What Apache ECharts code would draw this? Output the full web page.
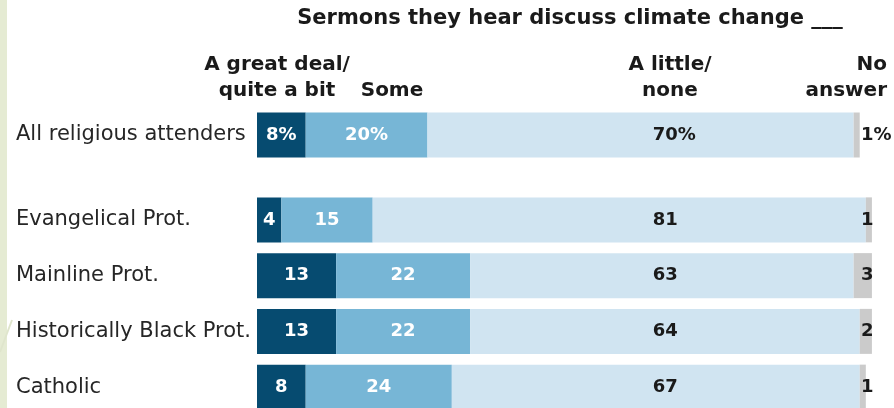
<!DOCTYPE html>
<html>
<head>
<meta charset="utf-8">
<script src="https://cdn.jsdelivr.net/npm/echarts@6/dist/echarts.min.js"></script>
<style>
html,body{margin:0;padding:0;background:#fff;}
#chart{width:894px;height:408px;}
</style>
</head>
<body>
<div id="chart"></div>
<script>
const categories = ['All religious attenders', 'Evangelical Prot.', 'Mainline Prot.', 'Historically Black Prot.', 'Catholic'];
const greatDeal = [8, 4, 13, 13, 8];
const some = [20, 15, 22, 22, 24];
const littleNone = [70, 81, 63, 64, 67];
const noAnswer = [1, 1, 3, 2, 1];
const segmentNames = ['A great deal/ quite a bit', 'Some', 'A little/ none', 'No answer'];
const columnHeads = ['A great deal/\nquite a bit', 'Some', 'A little/\nnone', 'No\nanswer'];
const titleText = 'Sermons they hear discuss climate change ___';

const colors = ['#064b70', '#77b6d6', '#d0e4f1', '#cbcbcb'];
const labelColors = ['#ffffff', '#ffffff', '#1a1a1a', '#1a1a1a'];
const FONT = 'DejaVu Sans';

const chart = echarts.init(document.getElementById('chart'), null, {renderer: 'canvas'});
const W = chart.getWidth();
const gridLeft = 257, gridRight = 16, xMax = 102;
const ppu = (W - gridLeft - gridRight) / xMax;
const lightCol = 65;     // column (in %) where "A little/none" labels start
const naCol = 99.2;      // column where "No answer" labels start

const values = [greatDeal, some, littleNone, noAnswer];
const groups = [[0], [1, 2, 3, 4]];

const series = [];
groups.forEach((idx, g) => {
  values.forEach((vals, s) => {
    series.push({
      type: 'bar',
      name: segmentNames[s],
      xAxisIndex: g,
      yAxisIndex: g,
      stack: 'g' + g,
      barWidth: 45,
      itemStyle: {color: colors[s]},
      label: {
        show: true,
        position: s >= 2 ? 'insideLeft' : 'inside',
        distance: 0,
        color: labelColors[s],
        fontFamily: FONT,
        fontWeight: 'bold',
        fontSize: 18,
        formatter: g === 0 ? '{c}%' : '{c}'
      },
      data: idx.map(i => {
        const item = {value: vals[i]};
        if (s === 2) {
          item.label = {offset: [(lightCol - (greatDeal[i] + some[i])) * ppu, 0]};
        } else if (s === 3) {
          item.label = {offset: [(naCol - (greatDeal[i] + some[i] + littleNone[i])) * ppu, 0]};
        }
        return item;
      })
    });
  });
});

const yAxisBase = {
  type: 'category',
  inverse: true,
  axisLine: {show: false},
  axisTick: {show: false},
  splitLine: {show: false},
  axisLabel: {
    align: 'left',
    margin: gridLeft - 16,
    color: '#262626',
    fontFamily: FONT,
    fontSize: 21
  }
};
const xAxisBase = {type: 'value', min: 0, max: xMax, show: false};

const headStyle = {fontFamily: FONT, fontWeight: 'bold', fontSize: 20, fill: '#1a1a1a', lineHeight: 26};

const option = {
  animation: false,
  backgroundColor: '#ffffff',
  grid: [
    {left: gridLeft, right: gridRight, top: 107, height: 56, containLabel: false, outerBoundsMode: 'none'},
    {left: gridLeft, right: gridRight, top: 192, height: 223, containLabel: false, outerBoundsMode: 'none'}
  ],
  xAxis: [
    Object.assign({gridIndex: 0}, xAxisBase),
    Object.assign({gridIndex: 1}, xAxisBase)
  ],
  yAxis: [
    Object.assign({gridIndex: 0, data: categories.slice(0, 1)}, yAxisBase),
    Object.assign({gridIndex: 1, data: categories.slice(1)}, yAxisBase)
  ],
  series: series,
  graphic: [
    {type: 'rect', shape: {x: 0, y: 0, width: 7, height: 408}, style: {fill: '#e5ebd3'}, silent: true},
    {type: 'line', shape: {x1: 0, y1: 352, x2: 12, y2: 320}, style: {stroke: '#dfe5cc', lineWidth: 2}, silent: true},
    {type: 'text', x: 570, y: 18.5, style: {text: titleText, fontFamily: FONT, fontWeight: 'bold', fontSize: 21, fill: '#1a1a1a', align: 'center', verticalAlign: 'middle'}},
    {type: 'text', x: 277, y: 77.75, style: Object.assign({text: columnHeads[0], align: 'center', verticalAlign: 'middle'}, headStyle)},
    {type: 'text', x: 392, y: 90.75, style: Object.assign({text: columnHeads[1], align: 'center', verticalAlign: 'middle'}, headStyle)},
    {type: 'text', x: 670, y: 77.75, style: Object.assign({text: columnHeads[2], align: 'center', verticalAlign: 'middle'}, headStyle)},
    {type: 'text', x: 887, y: 77.75, style: Object.assign({text: columnHeads[3], align: 'right', verticalAlign: 'middle'}, headStyle)}
  ]
};
chart.setOption(option);
</script>
</body>
</html>
